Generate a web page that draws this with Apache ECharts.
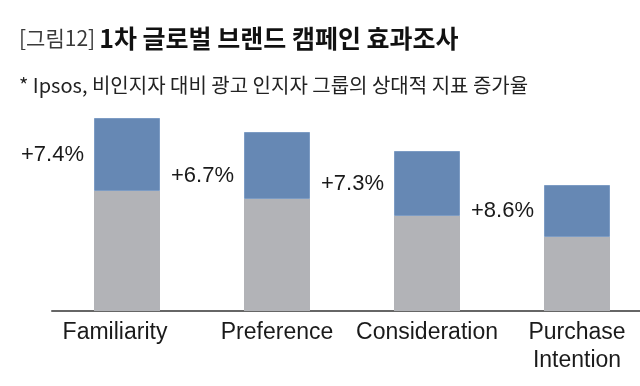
<!DOCTYPE html>
<html>
<head>
<meta charset="utf-8">
<script src="https://cdn.jsdelivr.net/npm/echarts@6/dist/echarts.min.js"></script>
<style>html,body{margin:0;padding:0;background:#fff;}#c{width:640px;height:386px;}</style>
</head>
<body>
<div id="c"></div>
<script>
var categories = ['Familiarity', 'Preference', 'Consideration', 'Purchase\nIntention'];
var baseValues = [120, 112, 95, 74];
var liftValues = [73, 67, 65, 52];
var liftLabels = ['+7.4%', '+6.7%', '+7.3%', '+8.6%'];
var titlePrefix = '[그림12]';
var titleMain = '1차 글로벌 브랜드 캠페인 효과조사';
var subtitle = '* Ipsos, 비인지자 대비 광고 인지자 그룹의 상대적 지표 증가율';

var chart = echarts.init(document.getElementById('c'), null, {renderer: 'canvas'});
chart.setOption({
  animation: false,
  backgroundColor: '#ffffff',
  title: [
    {
      left: 14, top: 21,
      text: '{a|' + titlePrefix + '}{b|' + titleMain + '}',
      textStyle: {
        rich: {
          a: {fontFamily: 'Noto Sans CJK KR', fontSize: 21, fontWeight: 'normal', color: '#3a3a3a', padding: [0, 4, 0, 0]},
          b: {fontFamily: 'Noto Sans CJK KR', fontSize: 25, fontWeight: 'bold', color: '#111111'}
        }
      }
    },
    {
      left: 14, top: 70,
      text: subtitle,
      textStyle: {fontFamily: 'Noto Sans CJK KR', fontSize: 20, fontWeight: 'normal', color: '#222222'}
    }
  ],
  grid: {left: 52, width: 600, top: 100, bottom: 75, outerBoundsMode: 'none', containLabel: false},
  xAxis: {
    type: 'category',
    data: categories.map(function (c, i) {
      return i === 0 ? {value: c, textStyle: {padding: [0, 24, 0, 0]}} : c;
    }),
    axisLine: {lineStyle: {color: '#666666', width: 2}},
    axisTick: {show: false},
    axisLabel: {
      fontFamily: 'Liberation Sans, Arial, sans-serif',
      fontSize: 23, color: '#1a1a1a', margin: 8, lineHeight: 28, interval: 0
    }
  },
  yAxis: {
    type: 'value', min: 0, max: 211,
    show: false, splitLine: {show: false}
  },
  series: [
    {
      type: 'bar', stack: 'total', data: baseValues, barWidth: 66,
      itemStyle: {color: '#b2b3b7'}
    },
    {
      type: 'bar', stack: 'total', barWidth: 66,
      data: liftValues.map(function (v, i) {
        return i === 1 ? {value: v, label: {offset: [0, 10]}} : v;
      }),
      itemStyle: {color: '#6688b4', borderColor: '#7d9cc4', borderWidth: 1},
      label: {
        show: true, position: 'left', distance: 10,
        formatter: function (p) { return liftLabels[p.dataIndex]; },
        fontFamily: 'Liberation Sans, Arial, sans-serif',
        fontSize: 22, color: '#1a1a1a'
      }
    }
  ]
});
</script>
</body>
</html>
